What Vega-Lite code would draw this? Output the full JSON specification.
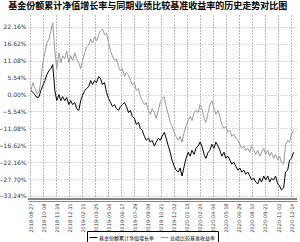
{
  "$schema": "https://vega.github.io/schema/vega-lite/v6.json",
  "autosize": "none",
  "width": 269,
  "height": 186,
  "padding": {"left": 28, "top": 15, "right": 3, "bottom": 41},
  "background": "white",
  "config": {
    "view": {"stroke": null},
    "font": "Noto Sans CJK SC"
  },
  "title": {
    "text": "基金份额累计净值增长率与同期业绩比较基准收益率的历史走势对比图",
    "font": "Noto Sans CJK SC",
    "fontSize": 9,
    "fontWeight": "bold",
    "color": "#000000",
    "anchor": "middle",
    "frame": "bounds",
    "offset": 4
  },
  "datasets": {
    "rows": [
      {"d":"2018-08-30","f":1.3,"b":1.3},
      {"d":"2018-09-05","f":0.7,"b":3.9},
      {"d":"2018-09-12","f":0.0,"b":2.0},
      {"d":"2018-09-18","f":-1.0,"b":0.3},
      {"d":"2018-09-25","f":-0.7,"b":0.7},
      {"d":"2018-10-01","f":1.3,"b":4.6},
      {"d":"2018-10-07","f":2.9,"b":10.4},
      {"d":"2018-10-14","f":4.6,"b":13.7},
      {"d":"2018-10-20","f":6.5,"b":16.9},
      {"d":"2018-10-27","f":7.8,"b":18.2},
      {"d":"2018-11-02","f":8.5,"b":20.9},
      {"d":"2018-11-08","f":9.8,"b":23.5},
      {"d":"2018-11-15","f":1.3,"b":14.3},
      {"d":"2018-11-21","f":-2.0,"b":8.5},
      {"d":"2018-11-28","f":0.0,"b":13.7},
      {"d":"2018-12-04","f":-2.0,"b":10.4},
      {"d":"2018-12-10","f":-0.7,"b":12.7},
      {"d":"2018-12-17","f":-2.0,"b":11.7},
      {"d":"2018-12-23","f":-1.0,"b":14.3},
      {"d":"2018-12-30","f":-3.3,"b":10.4},
      {"d":"2019-01-05","f":-2.0,"b":12.7},
      {"d":"2019-01-11","f":-3.3,"b":11.1},
      {"d":"2019-01-18","f":-2.6,"b":13.7},
      {"d":"2019-01-24","f":-4.6,"b":11.7},
      {"d":"2019-01-31","f":-5.2,"b":10.4},
      {"d":"2019-02-06","f":-2.0,"b":8.5},
      {"d":"2019-02-12","f":-0.3,"b":11.1},
      {"d":"2019-02-19","f":1.3,"b":13.7},
      {"d":"2019-02-25","f":2.0,"b":15.6},
      {"d":"2019-03-04","f":2.6,"b":16.3},
      {"d":"2019-03-10","f":4.6,"b":18.2},
      {"d":"2019-03-16","f":3.3,"b":16.9},
      {"d":"2019-03-23","f":4.6,"b":18.9},
      {"d":"2019-03-29","f":3.9,"b":17.6},
      {"d":"2019-04-05","f":5.9,"b":19.6},
      {"d":"2019-04-11","f":5.2,"b":20.9},
      {"d":"2019-04-17","f":3.3,"b":21.5},
      {"d":"2019-04-24","f":3.9,"b":19.6},
      {"d":"2019-04-30","f":0.7,"b":20.2},
      {"d":"2019-05-07","f":-1.3,"b":16.9},
      {"d":"2019-05-13","f":-2.6,"b":14.3},
      {"d":"2019-05-19","f":-3.9,"b":12.7},
      {"d":"2019-05-26","f":-3.3,"b":11.1},
      {"d":"2019-06-01","f":-4.6,"b":11.7},
      {"d":"2019-06-08","f":-5.2,"b":9.1},
      {"d":"2019-06-14","f":-3.9,"b":7.8},
      {"d":"2019-06-20","f":-3.3,"b":8.5},
      {"d":"2019-06-27","f":-2.6,"b":5.9},
      {"d":"2019-07-03","f":-3.9,"b":7.2},
      {"d":"2019-07-10","f":-5.9,"b":6.5},
      {"d":"2019-07-16","f":-5.2,"b":4.6},
      {"d":"2019-07-22","f":-7.2,"b":3.3},
      {"d":"2019-07-29","f":-7.8,"b":3.9},
      {"d":"2019-08-04","f":-9.8,"b":1.3},
      {"d":"2019-08-11","f":-9.1,"b":2.0},
      {"d":"2019-08-17","f":-11.1,"b":-0.7},
      {"d":"2019-08-23","f":-11.7,"b":-2.0},
      {"d":"2019-08-30","f":-13.7,"b":-3.3},
      {"d":"2019-09-05","f":-15.0,"b":-2.6},
      {"d":"2019-09-12","f":-14.3,"b":-5.2},
      {"d":"2019-09-18","f":-15.6,"b":-6.5},
      {"d":"2019-09-24","f":-15.0,"b":-4.6},
      {"d":"2019-10-01","f":-16.9,"b":-5.9},
      {"d":"2019-10-07","f":-15.6,"b":-7.8},
      {"d":"2019-10-14","f":-14.3,"b":-5.2},
      {"d":"2019-10-20","f":-15.0,"b":-2.6},
      {"d":"2019-10-26","f":-13.7,"b":-1.3},
      {"d":"2019-11-02","f":-12.4,"b":-0.7},
      {"d":"2019-11-08","f":-14.3,"b":-3.9},
      {"d":"2019-11-15","f":-16.9,"b":-6.5},
      {"d":"2019-11-21","f":-18.9,"b":-9.1},
      {"d":"2019-11-27","f":-21.5,"b":-10.4},
      {"d":"2019-12-04","f":-23.5,"b":-12.4},
      {"d":"2019-12-10","f":-24.8,"b":-13.7},
      {"d":"2019-12-17","f":-25.4,"b":-15.0},
      {"d":"2019-12-23","f":-24.1,"b":-13.7},
      {"d":"2019-12-29","f":-26.7,"b":-15.6},
      {"d":"2020-01-05","f":-23.5,"b":-12.4},
      {"d":"2020-01-11","f":-20.9,"b":-10.4},
      {"d":"2020-01-18","f":-18.9,"b":-8.5},
      {"d":"2020-01-24","f":-20.2,"b":-7.2},
      {"d":"2020-01-30","f":-18.3,"b":-8.5},
      {"d":"2020-02-06","f":-19.6,"b":-5.9},
      {"d":"2020-02-12","f":-17.6,"b":-5.2},
      {"d":"2020-02-19","f":-16.9,"b":-5.9},
      {"d":"2020-02-25","f":-15.6,"b":-3.3},
      {"d":"2020-03-02","f":-16.9,"b":-4.6},
      {"d":"2020-03-09","f":-19.6,"b":-7.8},
      {"d":"2020-03-15","f":-20.9,"b":-9.1},
      {"d":"2020-03-22","f":-18.9,"b":-5.9},
      {"d":"2020-03-28","f":-18.3,"b":-3.3},
      {"d":"2020-04-03","f":-16.3,"b":-2.0},
      {"d":"2020-04-10","f":-17.6,"b":-4.6},
      {"d":"2020-04-16","f":-15.6,"b":-6.5},
      {"d":"2020-04-23","f":-16.9,"b":-5.2},
      {"d":"2020-04-29","f":-18.3,"b":-7.2},
      {"d":"2020-05-05","f":-20.2,"b":-9.8},
      {"d":"2020-05-12","f":-18.9,"b":-11.1},
      {"d":"2020-05-18","f":-20.9,"b":-10.4},
      {"d":"2020-05-25","f":-20.2,"b":-12.4},
      {"d":"2020-05-31","f":-21.5,"b":-11.7},
      {"d":"2020-06-06","f":-22.8,"b":-13.7},
      {"d":"2020-06-13","f":-22.2,"b":-13.0},
      {"d":"2020-06-19","f":-23.5,"b":-14.3},
      {"d":"2020-06-26","f":-24.8,"b":-15.0},
      {"d":"2020-07-02","f":-24.1,"b":-16.3},
      {"d":"2020-07-08","f":-25.4,"b":-17.6},
      {"d":"2020-07-15","f":-24.8,"b":-16.9},
      {"d":"2020-07-21","f":-26.1,"b":-18.3},
      {"d":"2020-07-28","f":-25.4,"b":-17.6},
      {"d":"2020-08-03","f":-26.7,"b":-18.9},
      {"d":"2020-08-09","f":-28.0,"b":-16.9},
      {"d":"2020-08-16","f":-27.4,"b":-18.3},
      {"d":"2020-08-22","f":-28.7,"b":-19.6},
      {"d":"2020-08-29","f":-29.3,"b":-18.3},
      {"d":"2020-09-04","f":-27.4,"b":-20.2},
      {"d":"2020-09-10","f":-28.7,"b":-18.9},
      {"d":"2020-09-17","f":-26.7,"b":-17.6},
      {"d":"2020-09-23","f":-28.0,"b":-19.6},
      {"d":"2020-09-30","f":-26.7,"b":-18.3},
      {"d":"2020-10-06","f":-28.7,"b":-20.2},
      {"d":"2020-10-12","f":-27.4,"b":-18.9},
      {"d":"2020-10-19","f":-28.0,"b":-20.9},
      {"d":"2020-10-25","f":-26.7,"b":-19.6},
      {"d":"2020-11-01","f":-29.3,"b":-21.5},
      {"d":"2020-11-07","f":-30.0,"b":-20.2},
      {"d":"2020-11-13","f":-31.3,"b":-22.2},
      {"d":"2020-11-20","f":-30.6,"b":-22.8},
      {"d":"2020-11-26","f":-25.4,"b":-16.6},
      {"d":"2020-12-03","f":-24.8,"b":-15.0},
      {"d":"2020-12-09","f":-21.5,"b":-15.6},
      {"d":"2020-12-15","f":-20.9,"b":-13.0},
      {"d":"2020-12-22","f":-18.9,"b":-11.7}
    ]
  },
  "data": {"name": "rows"},
  "transform": [
    {"fold": ["f", "b"], "as": ["key", "value"]},
    {"lookup": "key", "from": {"data": {"values": [
      {"key": "f", "series": "基金份额累计净值增长率", "rank": 2},
      {"key": "b", "series": "业绩比较基准收益率", "rank": 1}
    ]}, "key": "key", "fields": ["series", "rank"]}}
  ],
  "layer": [
    {
      "mark": {"type": "line", "strokeWidth": 1, "interpolate": "linear"},
      "encoding": {
        "x": {
          "field": "d",
          "type": "temporal",
          "scale": {"domain": ["2018-08-20T12:00:00", "2021-01-02T00:00:00"]},
          "axis": {
            "title": null,
            "tickCount": 40,
            "values": [
              {"year": 2018, "month": 8, "date": 27},
              {"year": 2018, "month": 10, "date": 8},
              {"year": 2018, "month": 11, "date": 19},
              {"year": 2018, "month": 12, "date": 31},
              {"year": 2019, "month": 2, "date": 11},
              {"year": 2019, "month": 3, "date": 25},
              {"year": 2019, "month": 5, "date": 6},
              {"year": 2019, "month": 6, "date": 17},
              {"year": 2019, "month": 7, "date": 29},
              {"year": 2019, "month": 9, "date": 9},
              {"year": 2019, "month": 10, "date": 21},
              {"year": 2019, "month": 12, "date": 2},
              {"year": 2020, "month": 1, "date": 13},
              {"year": 2020, "month": 2, "date": 24},
              {"year": 2020, "month": 4, "date": 6},
              {"year": 2020, "month": 5, "date": 18},
              {"year": 2020, "month": 6, "date": 29},
              {"year": 2020, "month": 8, "date": 10},
              {"year": 2020, "month": 9, "date": 21},
              {"year": 2020, "month": 11, "date": 2},
              {"year": 2020, "month": 12, "date": 14}
            ],
            "format": "%Y-%m-%d",
            "labelAngle": 270,
            "labelFontSize": 5,
            "labelColor": "#333333",
            "labelFont": "DejaVu Sans",
            "labelPadding": 2,
            "labelOverlap": false,
            "labelBound": false,
            "ticks": false,
            "domainColor": "#888888",
            "domainWidth": 1,
            "grid": true,
            "gridColor": "#555555",
            "gridDash": [1, 2],
            "gridWidth": 0.8
          }
        },
        "y": {
          "field": "value",
          "type": "quantitative",
          "scale": {"domain": [-34.9, 26.07], "nice": false, "zero": false},
          "axis": {
            "title": null,
            "tickCount": 40,
            "values": [-33.24, -27.7, -22.16, -16.62, -11.08, -5.54, 0, 5.54, 11.08, 16.62, 22.16],
            "labelExpr": "format(datum.value, '.2f') + '%'",
            "labelFontSize": 6,
            "labelFont": "DejaVu Sans",
            "labelColor": "#333333",
            "labelPadding": 2,
            "labelOverlap": false,
            "labelBound": false,
            "labelFlush": false,
            "ticks": false,
            "domain": false,
            "grid": true,
            "gridColor": "#999999",
            "gridDash": [1, 2],
            "gridWidth": 0.8
          }
        },
        "color": {
          "field": "series",
          "type": "nominal",
          "scale": {"domain": ["基金份额累计净值增长率", "业绩比较基准收益率"], "range": ["#000000", "#999999"]},
          "legend": {
            "title": null,
            "orient": "none",
            "legendX": 59,
            "legendY": 216,
            "direction": "horizontal",
            "gridAlign": "none",
            "symbolType": "stroke",
            "symbolSize": 64,
            "symbolStrokeWidth": 1,
            "labelFontSize": 5,
            "labelFont": "Noto Sans CJK SC",
            "labelColor": "#000000",
            "labelOffset": 1,
            "columnPadding": 3,
            "strokeColor": "#000000",
            "padding": 2
          }
        },
        "order": {"field": "d", "type": "temporal"},
        "detail": {"field": "rank", "type": "ordinal"}
      }
    },
    {
      "mark": {"type": "rule", "color": "#888888", "strokeWidth": 1},
      "encoding": {"y": {"datum": -34.1, "type": "quantitative"}}
    }
  ]
}
